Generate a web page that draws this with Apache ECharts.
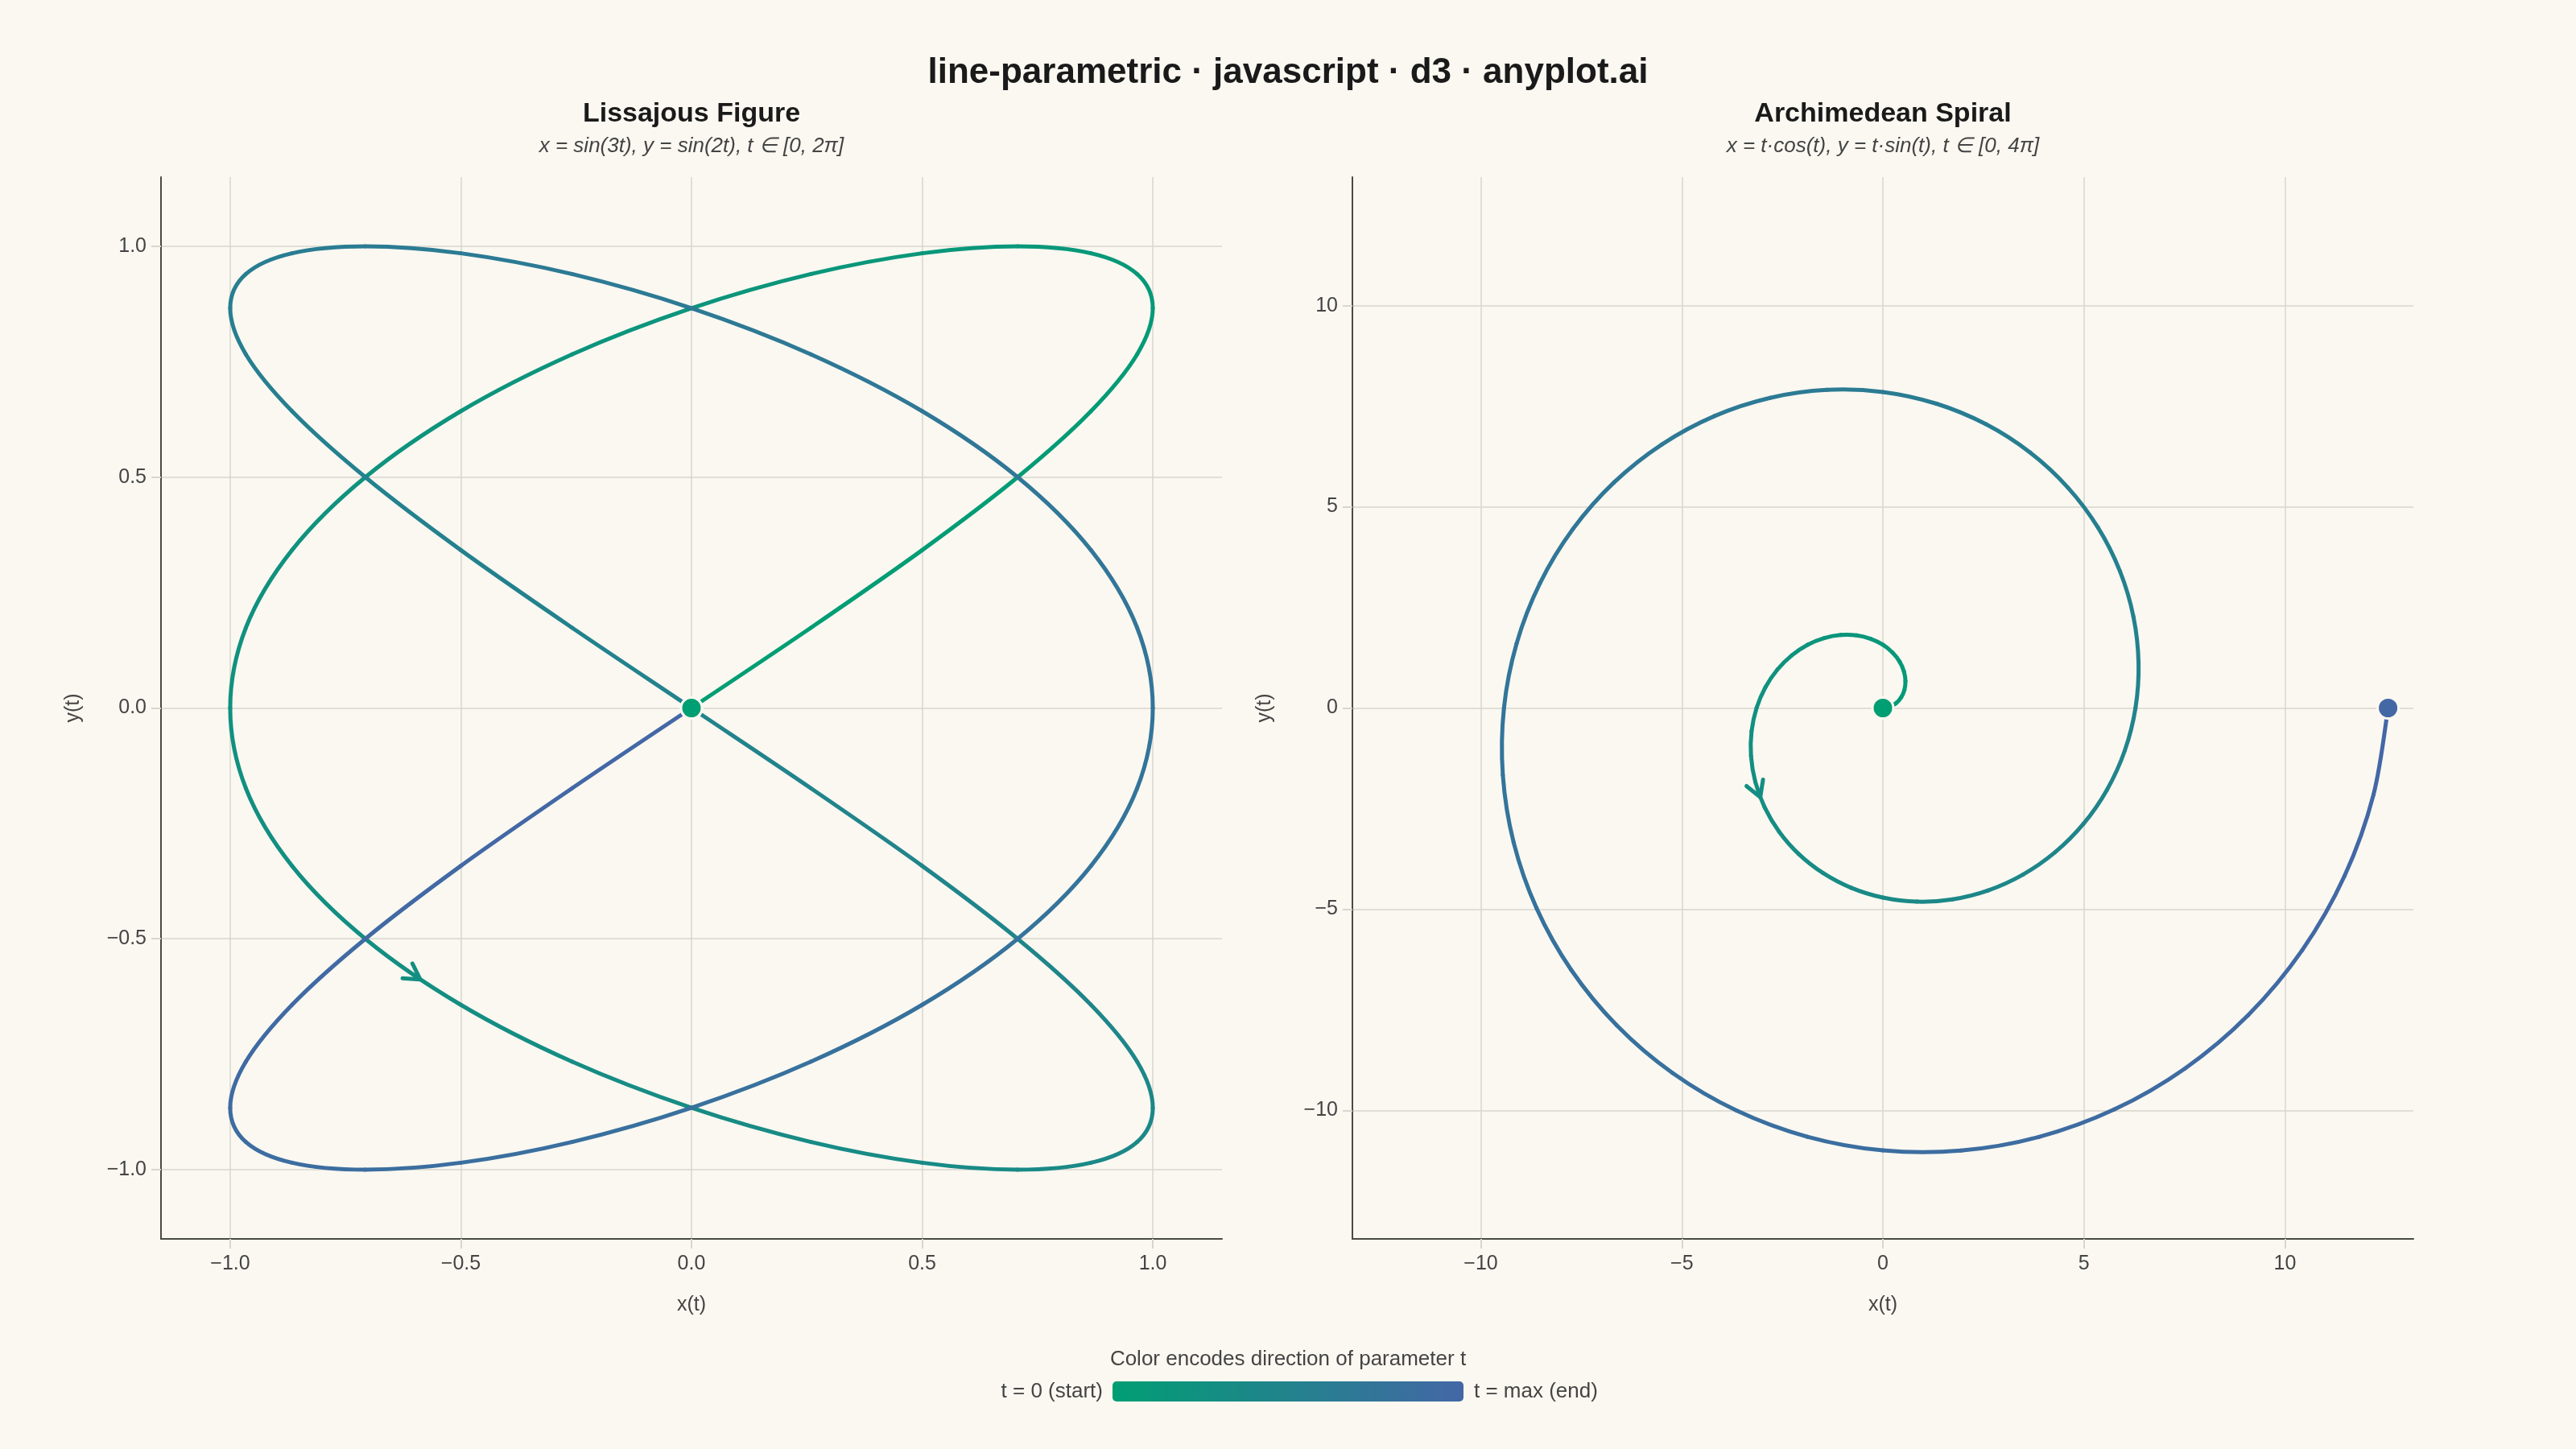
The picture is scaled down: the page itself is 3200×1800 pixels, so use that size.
<!DOCTYPE html>
<html>
<head>
<meta charset="utf-8">
<script src="https://cdn.jsdelivr.net/npm/echarts@6/dist/echarts.min.js"></script>
<style>
  html, body { margin: 0; padding: 0; background: #FAF8F1; }
  #main { width: 3200px; height: 1800px; }
</style>
</head>
<body>
<div id="main"></div>
<script>
// Lissajous figure, sampled every 5 degrees of t (t from 0 to 2π)
var lissX = [0, 0.259, 0.5, 0.707, 0.866, 0.966, 1, 0.966, 0.866, 0.707, 0.5, 0.259,
  0, -0.259, -0.5, -0.707, -0.866, -0.966, -1, -0.966, -0.866, -0.707, -0.5, -0.259,
  0, 0.259, 0.5, 0.707, 0.866, 0.966, 1, 0.966, 0.866, 0.707, 0.5, 0.259,
  0, -0.259, -0.5, -0.707, -0.866, -0.966, -1, -0.966, -0.866, -0.707, -0.5, -0.259,
  0, 0.259, 0.5, 0.707, 0.866, 0.966, 1, 0.966, 0.866, 0.707, 0.5, 0.259,
  0, -0.259, -0.5, -0.707, -0.866, -0.966, -1, -0.966, -0.866, -0.707, -0.5, -0.259, 0];
var lissY = [0, 0.174, 0.342, 0.5, 0.643, 0.766, 0.866, 0.94, 0.985, 1, 0.985, 0.94,
  0.866, 0.766, 0.643, 0.5, 0.342, 0.174, 0, -0.174, -0.342, -0.5, -0.643, -0.766,
  -0.866, -0.94, -0.985, -1, -0.985, -0.94, -0.866, -0.766, -0.643, -0.5, -0.342, -0.174,
  0, 0.174, 0.342, 0.5, 0.643, 0.766, 0.866, 0.94, 0.985, 1, 0.985, 0.94,
  0.866, 0.766, 0.643, 0.5, 0.342, 0.174, 0, -0.174, -0.342, -0.5, -0.643, -0.766,
  -0.866, -0.94, -0.985, -1, -0.985, -0.94, -0.866, -0.766, -0.643, -0.5, -0.342, -0.174, 0];

// Archimedean spiral, sampled every 10 degrees of t (t from 0 to 4π)
var spiralX = [0, 0.172, 0.328, 0.453, 0.535, 0.561, 0.524, 0.418, 0.242, 0,
  -0.303, -0.657, -1.047, -1.458, -1.872, -2.267, -2.624, -2.922, -3.142,
  -3.266, -3.28, -3.174, -2.941, -2.58, -2.094, -1.492, -0.788, 0,
  0.848, 1.731, 2.618, 3.478, 4.278, 4.988, 5.576, 6.016, 6.283,
  6.359, 6.232, 5.895, 5.348, 4.6, 3.665, 2.567, 1.333, 0,
  -1.394, -2.805, -4.189, -5.497, -6.685, -7.708, -8.528, -9.11, -9.425,
  -9.453, -9.184, -8.615, -7.754, -6.619, -5.236, -3.641, -1.879, 0,
  1.939, 3.88, 5.76, 7.517, 9.091, 10.429, 11.481, 12.203, 12.566];
var spiralY = [0, 0.03, 0.119, 0.262, 0.449, 0.668, 0.907, 1.148, 1.375, 1.571,
  1.719, 1.804, 1.814, 1.738, 1.571, 1.309, 0.955, 0.515, 0,
  -0.576, -1.194, -1.833, -2.468, -3.075, -3.628, -4.1, -4.469, -4.712,
  -4.813, -4.756, -4.534, -4.144, -3.59, -2.88, -2.029, -1.06, 0,
  1.121, 2.268, 3.403, 4.488, 5.481, 6.348, 7.052, 7.563, 7.854,
  7.906, 7.708, 7.255, 6.551, 5.609, 4.451, 3.104, 1.606, 0,
  -1.666, -3.343, -4.974, -6.507, -7.888, -9.069, -10.005, -10.656, -10.996,
  -11.0, -10.661, -9.976, -8.957, -7.629, -6.021, -4.178, -2.151, 0];

// direction arrows at 30% of t: [x, y, dx, dy]
var lissArrow = [-0.588, -0.588, 2.427, -1.618];
var spiralArrow = [-3.05, -2.216, 1.407, -3.638];
var arrowFrac = 0.3;

var lissTicks = [-1, -0.5, 0, 0.5, 1];
var spiralTicks = [-10, -5, 0, 5, 10];

var BG = '#FAF8F1';
var START = [0, 158, 115];
var END = [68, 103, 166];
var FONT = '"Liberation Sans", Arial, sans-serif';
var GRID = '#D9D6CD';
var INK = '#444444';

function mix(f) {
  var c = START.map(function (s, i) { return Math.round(s + (END[i] - s) * f); });
  return 'rgb(' + c.join(',') + ')';
}

function curveSeries(xs, ys, idx) {
  var n = xs.length;
  var segs = [];
  for (var i = 0; i < n - 1; i++) segs.push([xs[i], ys[i], xs[i + 1], ys[i + 1]]);
  return {
    type: 'custom', xAxisIndex: idx, yAxisIndex: idx, silent: true,
    encode: { x: [0, 2], y: [1, 3] },
    data: segs,
    renderItem: function (params, api) {
      var i = params.dataIndex;
      function p(j) {
        j = Math.max(0, Math.min(n - 1, j));
        return api.coord([xs[j], ys[j]]);
      }
      var p0 = p(i - 1), p1 = p(i), p2 = p(i + 1), p3 = p(i + 2);
      return {
        type: 'bezierCurve',
        shape: {
          x1: p1[0], y1: p1[1], x2: p2[0], y2: p2[1],
          cpx1: p1[0] + (p2[0] - p0[0]) / 6, cpy1: p1[1] + (p2[1] - p0[1]) / 6,
          cpx2: p2[0] - (p3[0] - p1[0]) / 6, cpy2: p2[1] - (p3[1] - p1[1]) / 6
        },
        style: { stroke: mix((i + 0.5) / (n - 1)), lineWidth: 5, fill: null, lineCap: 'round' }
      };
    }
  };
}

function arrowSeries(a, idx) {
  return {
    type: 'custom', xAxisIndex: idx, yAxisIndex: idx, silent: true, z: 3,
    data: [[a[0], a[1]]],
    renderItem: function (params, api) {
      var tip = api.coord([a[0], a[1]]);
      var ahead = api.coord([a[0] + a[2] * 0.01, a[1] + a[3] * 0.01]);
      var back = Math.atan2(ahead[1] - tip[1], ahead[0] - tip[0]) + Math.PI;
      var L = 22, h = Math.PI / 6;
      return {
        type: 'polyline',
        shape: { points: [
          [tip[0] + L * Math.cos(back - h), tip[1] + L * Math.sin(back - h)],
          tip,
          [tip[0] + L * Math.cos(back + h), tip[1] + L * Math.sin(back + h)]
        ] },
        style: { stroke: mix(arrowFrac), lineWidth: 5, fill: null, lineCap: 'round', lineJoin: 'round' }
      };
    }
  };
}

function dotSeries(xs, ys, idx) {
  var n = xs.length;
  return {
    type: 'scatter', xAxisIndex: idx, yAxisIndex: idx, silent: true, z: 4,
    symbolSize: 26,
    data: [
      { value: [xs[n - 1], ys[n - 1]], itemStyle: { color: mix(1) } },
      { value: [xs[0], ys[0]], itemStyle: { color: mix(0) } }
    ],
    itemStyle: { borderColor: BG, borderWidth: 3, opacity: 1 }
  };
}

function fmt(dec) {
  return function (v) { return Number(v).toFixed(dec).replace('-', '\u2212'); };
}

function xAxis(idx, lim, ticks, dec) {
  return {
    type: 'value', gridIndex: idx, min: -lim, max: lim,
    name: 'x(t)', nameLocation: 'middle', nameGap: 70,
    nameTextStyle: { fontFamily: FONT, fontSize: 25, color: INK },
    axisLine: { onZero: false, lineStyle: { color: '#4A4A44', width: 2 } },
    axisTick: { show: true, length: 12, customValues: ticks, lineStyle: { color: GRID, width: 2 } },
    axisLabel: { customValues: ticks, formatter: fmt(dec), margin: 19, fontFamily: FONT, fontSize: 25, color: INK },
    splitLine: { show: true, lineStyle: { color: GRID, width: 1.5 } }
  };
}

function yAxis(idx, lim, ticks, dec) {
  return {
    type: 'value', gridIndex: idx, min: -lim, max: lim,
    name: 'y(t)', nameLocation: 'middle', nameGap: 96, nameRotate: 90,
    nameTextStyle: { fontFamily: FONT, fontSize: 25, color: INK },
    axisLine: { onZero: false, lineStyle: { color: '#4A4A44', width: 2 } },
    axisTick: { show: true, length: 12, customValues: ticks, lineStyle: { color: GRID, width: 2 } },
    axisLabel: { customValues: ticks, formatter: fmt(dec), margin: 18, fontFamily: FONT, fontSize: 25, color: INK },
    splitLine: { show: true, lineStyle: { color: GRID, width: 1.5 } }
  };
}

function txt(x, y, text, font, fill, align) {
  return {
    type: 'text', x: x, y: y, silent: true,
    style: { text: text, font: font, fill: fill, align: align || 'center', verticalAlign: 'middle' }
  };
}

var chart = echarts.init(document.getElementById('main'), null, { renderer: 'canvas' });
chart.setOption({
  backgroundColor: BG,
  animation: false,
  grid: [
    { left: 200, top: 220, width: 1318, height: 1319 },
    { left: 1680, top: 220, width: 1318, height: 1319 }
  ],
  xAxis: [xAxis(0, 1.15, lissTicks, 1), xAxis(1, 13.195, spiralTicks, 0)],
  yAxis: [yAxis(0, 1.15, lissTicks, 1), yAxis(1, 13.195, spiralTicks, 0)],
  series: [
    curveSeries(lissX, lissY, 0), arrowSeries(lissArrow, 0), dotSeries(lissX, lissY, 0),
    curveSeries(spiralX, spiralY, 1), arrowSeries(spiralArrow, 1), dotSeries(spiralX, spiralY, 1)
  ],
  graphic: [
    txt(1600, 91, 'line-parametric \u00b7 javascript \u00b7 d3 \u00b7 anyplot.ai', 'bold 44px ' + FONT, '#1A1A1A'),
    txt(859, 142, 'Lissajous Figure', 'bold 34px ' + FONT, '#1A1A1A'),
    txt(859, 182, 'x = sin(3t), y = sin(2t), t \u2208 [0, 2\u03c0]', 'italic 26px ' + FONT, INK),
    txt(2339, 142, 'Archimedean Spiral', 'bold 34px ' + FONT, '#1A1A1A'),
    txt(2339, 182, 'x = t\u00b7cos(t), y = t\u00b7sin(t), t \u2208 [0, 4\u03c0]', 'italic 26px ' + FONT, INK),
    txt(1600, 1689, 'Color encodes direction of parameter t', '26px ' + FONT, INK),
    txt(1370, 1729, 't = 0 (start)', '26px ' + FONT, INK, 'right'),
    txt(1831, 1729, 't = max (end)', '26px ' + FONT, INK, 'left'),
    {
      type: 'rect', silent: true,
      shape: { x: 1382, y: 1716, width: 436, height: 25, r: 5 },
      style: { fill: { type: 'linear', x: 0, y: 0, x2: 1, y2: 0,
        colorStops: [{ offset: 0, color: mix(0) }, { offset: 1, color: mix(1) }] } }
    }
  ]
});
</script>
</body>
</html>
